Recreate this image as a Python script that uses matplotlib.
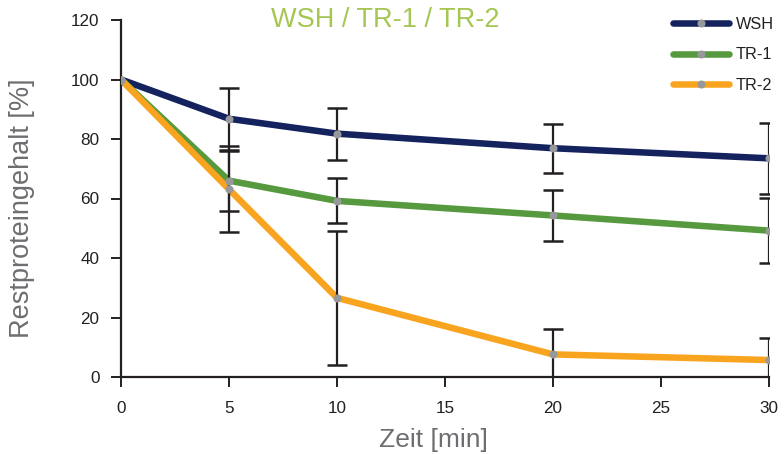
import matplotlib
matplotlib.use("Agg")
import matplotlib.pyplot as plt
from matplotlib.lines import Line2D

plt.rcParams['font.family'] = ['Liberation Sans', 'DejaVu Sans']

time = [0, 5, 10, 20, 30]
series_names = ["WSH", "TR-1", "TR-2"]
wsh = [100, 86.8, 81.8, 76.9, 73.5]
wsh_err = [0, 10.4, 8.7, 8.2, 12.0]
tr1 = [100, 66.0, 59.2, 54.3, 49.2]
tr1_err = [0, 10.1, 7.6, 8.6, 11.0]
tr2 = [100, 63.1, 26.6, 7.6, 5.7]
tr2_err = [0, 14.5, 22.5, 8.4, 7.3]
colors = ["#14225e", "#56993f", "#f8a41f"]

xticks = [0, 5, 10, 15, 20, 25, 30]
yticks = [0, 20, 40, 60, 80, 100, 120]

fig = plt.figure(figsize=(7.84, 4.54), dpi=100)
ax = fig.add_axes([121/784, 1-377/454, (769-121)/784, (377-20)/454])

data = [(wsh, wsh_err), (tr1, tr1_err), (tr2, tr2_err)]
for (vals, errs), c in zip(data, colors):
    ax.plot(time, vals, color=c, lw=4.7, solid_capstyle='round', zorder=2)
for vals, errs in data:
    xs = [t for t, e in zip(time, errs) if e > 0]
    ys = [v for v, e in zip(vals, errs) if e > 0]
    es = [e for e in errs if e > 0]
    ax.errorbar(xs, ys, yerr=es, fmt='none', ecolor='#231f20', elinewidth=1.6,
                capsize=7, capthick=1.8, zorder=3)
for vals in [wsh, tr1, tr2]:
    ax.plot(time, vals, linestyle='none', marker='o', ms=5.8, color='#97989b',
            mec='none', zorder=4)

ax.set_xlim(0, 30)
ax.set_ylim(0, 120)
ax.set_xticks(xticks)
ax.set_yticks(yticks)
for s in ['top', 'right']:
    ax.spines[s].set_visible(False)
for s in ['left', 'bottom']:
    ax.spines[s].set_linewidth(1.6)
    ax.spines[s].set_color('#231f20')
ax.tick_params(axis='both', direction='out', length=7, width=1.4, color='#231f20',
               labelsize=12.3, labelcolor='#231f20')
ax.tick_params(axis='x', pad=10.5)
ax.tick_params(axis='y', pad=8.5)

fig.text(433/784, 1-439.5/454, "Zeit [min]", fontsize=19, color='#6d6e71',
         ha='center', va='center')
fig.text(22.5/784, 1-208/454, "Restproteingehalt [%]", fontsize=19.5, color='#6d6e71',
         ha='center', va='center', rotation=90)
fig.text(0.491, 1-20/454, "WSH / TR-1 / TR-2", fontsize=19.5, color='#a5c653',
         ha='center', va='center')

handles = [Line2D([0], [0], color=c, lw=4.7, solid_capstyle='round', marker='o',
                  ms=5.8, mfc='#97989b', mec='none') for c in colors]
leg = fig.legend(handles, series_names, loc='upper right', bbox_to_anchor=(1.006, 0.995),
                 frameon=False, fontsize=11.7, handlelength=3.4, labelspacing=0.95,
                 handletextpad=0.45, borderaxespad=0.5)
for t in leg.get_texts():
    t.set_color('#231f20')

fig.savefig("out.png", dpi=100)
